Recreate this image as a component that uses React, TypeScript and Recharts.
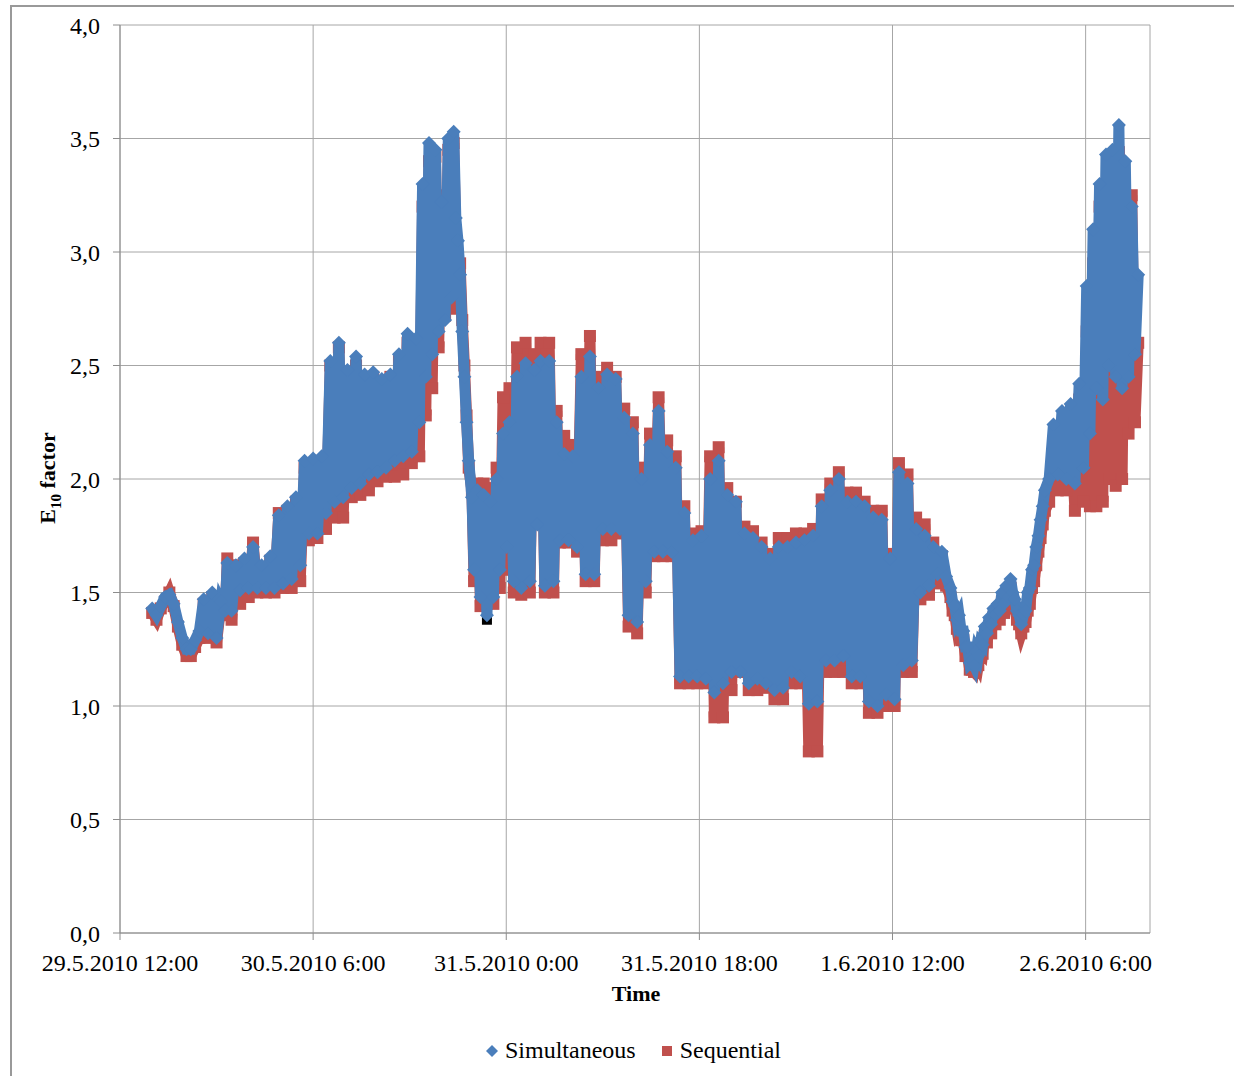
import React from 'react';
import { ScatterChart, Scatter, XAxis, YAxis, CartesianGrid } from 'recharts';

// hours since 29.5.2010 12:00, E10 factor
const simultaneous: [number, number][] = [
  [3.0, 1.43], [3.4, 1.40], [3.8, 1.44], [4.2, 1.48], [4.6, 1.49], [5.0, 1.45], [5.4, 1.37], [5.8, 1.30],
  [6.2, 1.25], [6.6, 1.25], [7.0, 1.29], [7.4, 1.33], [7.8, 1.47], [8.2, 1.32], [8.6, 1.50], [9.0, 1.30],
  [9.4, 1.46], [9.8, 1.42], [10.0, 1.63], [10.4, 1.42], [10.8, 1.62], [11.2, 1.51], [11.6, 1.65], [12.0, 1.52],
  [12.4, 1.70], [12.8, 1.52], [13.2, 1.62], [13.6, 1.52], [14.0, 1.66], [14.4, 1.52], [14.8, 1.84], [15.2, 1.54],
  [15.6, 1.88], [16.0, 1.56], [16.4, 1.92], [16.8, 1.62], [17.2, 2.08], [17.6, 1.76], [18.0, 2.09], [18.4, 1.76],
  [18.8, 2.10], [19.2, 1.85], [19.6, 2.52], [20.0, 1.90], [20.4, 2.60], [20.8, 1.92], [21.2, 2.48], [21.6, 1.96],
  [22.0, 2.54], [22.4, 1.98], [22.8, 2.46], [23.2, 2.02], [23.6, 2.47], [24.0, 2.03], [24.4, 2.44], [24.8, 2.05],
  [25.2, 2.46], [25.6, 2.08], [26.0, 2.55], [26.4, 2.10], [26.8, 2.64], [27.2, 2.12], [27.6, 2.62], [27.9, 2.25],
  [28.2, 3.30], [28.5, 2.45], [28.8, 3.48], [29.1, 2.55], [29.4, 3.45], [29.7, 2.65], [30.0, 3.22], [30.3, 2.70],
  [30.6, 3.50], [30.9, 2.80], [31.1, 3.53], [31.3, 3.15], [31.5, 3.05], [31.7, 2.90], [31.9, 2.65], [32.1, 2.45],
  [32.3, 2.25], [32.5, 2.08], [32.8, 1.92], [33.0, 1.60], [33.3, 1.95], [33.6, 1.48], [33.9, 1.93], [34.2, 1.40],
  [34.5, 1.90], [34.8, 1.48], [35.1, 2.00], [35.4, 1.60], [35.7, 2.20], [36.0, 1.70], [36.3, 2.25], [36.7, 1.55],
  [37.0, 2.45], [37.4, 1.52], [37.8, 2.51], [38.2, 1.55], [38.6, 2.48], [38.9, 1.80], [39.2, 2.52], [39.6, 1.53],
  [40.0, 2.52], [40.4, 1.55], [40.7, 2.25], [41.0, 1.73], [41.4, 2.11], [41.8, 1.73], [42.2, 2.10], [42.6, 1.70],
  [43.0, 2.45], [43.4, 1.58], [43.8, 2.54], [44.2, 1.58], [44.6, 2.40], [45.0, 1.78], [45.4, 2.46], [45.8, 1.78],
  [46.2, 2.44], [46.6, 1.78], [47.0, 2.27], [47.4, 1.40], [47.8, 2.20], [48.2, 1.37], [48.6, 2.00], [49.0, 1.55],
  [49.4, 2.15], [49.8, 1.68], [50.2, 2.30], [50.6, 1.68], [51.0, 2.12], [51.4, 1.68], [51.8, 2.05], [52.2, 1.13],
  [52.6, 1.85], [53.0, 1.13], [53.4, 1.73], [53.8, 1.13], [54.2, 1.75], [54.6, 1.12], [55.0, 2.00], [55.4, 1.06],
  [55.8, 2.08], [56.2, 1.10], [56.6, 1.93], [57.0, 1.15], [57.4, 1.90], [57.8, 1.15], [58.2, 1.76], [58.6, 1.10],
  [59.0, 1.74], [59.4, 1.12], [59.8, 1.70], [60.2, 1.10], [60.6, 1.65], [61.0, 1.07], [61.4, 1.70], [61.8, 1.08],
  [62.2, 1.70], [62.6, 1.15], [63.0, 1.72], [63.4, 1.13], [63.8, 1.73], [64.2, 1.01], [64.6, 1.75], [65.0, 1.02],
  [65.4, 1.88], [65.8, 1.20], [66.2, 1.95], [66.6, 1.20], [67.0, 2.00], [67.4, 1.22], [67.8, 1.90], [68.2, 1.13],
  [68.6, 1.90], [69.0, 1.13], [69.4, 1.88], [69.8, 1.02], [70.2, 1.83], [70.6, 1.00], [71.0, 1.82], [71.4, 1.05],
  [71.8, 1.65], [72.2, 1.03], [72.6, 2.03], [73.0, 1.18], [73.4, 1.98], [73.8, 1.20], [74.2, 1.78], [74.6, 1.50],
  [75.0, 1.75], [75.4, 1.53], [75.8, 1.70], [76.2, 1.58], [76.6, 1.68], [77.0, 1.57], [77.4, 1.52], [77.6, 1.46],
  [77.8, 1.44], [78.0, 1.38], [78.2, 1.40], [78.4, 1.33], [78.6, 1.33], [78.8, 1.26], [79.0, 1.26], [79.2, 1.19],
  [79.4, 1.20], [79.6, 1.18], [79.8, 1.24], [80.0, 1.22], [80.2, 1.28], [80.4, 1.27], [80.6, 1.35], [80.8, 1.32],
  [81.0, 1.39], [81.2, 1.36], [81.4, 1.43], [81.6, 1.40], [81.8, 1.45], [82.0, 1.42], [82.2, 1.50], [82.4, 1.45],
  [82.6, 1.53], [82.8, 1.48], [83.0, 1.56], [83.2, 1.50], [83.4, 1.47], [83.6, 1.42], [83.8, 1.40], [84.0, 1.36],
  [84.2, 1.40], [84.4, 1.42], [84.6, 1.50], [84.8, 1.52], [85.0, 1.60], [85.2, 1.62], [85.4, 1.70], [85.6, 1.75],
  [85.8, 1.82], [86.0, 1.88], [86.2, 1.95], [86.6, 2.00], [87.0, 2.24], [87.4, 2.02],
  [87.8, 2.30], [88.2, 2.00], [88.6, 2.33], [89.0, 1.98], [89.4, 2.42], [89.8, 2.05], [90.1, 2.85], [90.4, 2.20],
  [90.7, 3.10], [91.0, 2.40], [91.3, 3.30], [91.6, 2.35], [91.9, 3.43], [92.2, 2.50], [92.5, 3.45], [92.8, 2.45],
  [93.1, 3.56], [93.4, 2.40], [93.7, 3.40], [94.0, 2.45], [94.3, 3.20], [94.6, 2.55], [94.9, 2.90],
];

const sequential: [number, number][] = [
  [3.0, 1.41], [3.4, 1.38], [3.8, 1.43], [4.2, 1.46], [4.6, 1.50], [5.0, 1.44], [5.4, 1.35], [5.8, 1.27],
  [6.2, 1.22], [6.6, 1.22], [7.0, 1.26], [7.4, 1.30], [7.8, 1.45], [8.2, 1.30], [8.6, 1.48], [9.0, 1.28],
  [9.4, 1.44], [9.8, 1.40], [10.0, 1.65], [10.4, 1.38], [10.8, 1.62], [11.2, 1.45], [11.6, 1.63], [12.0, 1.48],
  [12.4, 1.72], [12.8, 1.50], [13.2, 1.60], [13.6, 1.50], [14.0, 1.64], [14.4, 1.50], [14.8, 1.85], [15.2, 1.52],
  [15.6, 1.86], [16.0, 1.52], [16.4, 1.90], [16.8, 1.55], [17.2, 2.05], [17.6, 1.73], [18.0, 2.06], [18.4, 1.74],
  [18.8, 2.08], [19.2, 1.78], [19.6, 2.50], [20.0, 1.83], [20.4, 2.58], [20.8, 1.83], [21.2, 2.45], [21.6, 1.92],
  [22.0, 2.50], [22.4, 1.93], [22.8, 2.45], [23.2, 1.95], [23.6, 2.45], [24.0, 1.99], [24.4, 2.42], [24.8, 2.01],
  [25.2, 2.45], [25.6, 2.01], [26.0, 2.52], [26.4, 2.02], [26.8, 2.60], [27.2, 2.07], [27.6, 2.60], [27.9, 2.10],
  [28.2, 3.20], [28.5, 2.28], [28.8, 3.40], [29.1, 2.40], [29.4, 3.42], [29.7, 2.58], [30.0, 3.25], [30.3, 2.72],
  [30.6, 3.45], [30.9, 2.75], [31.1, 3.48], [31.3, 3.07], [31.5, 2.93], [31.7, 2.95], [31.9, 2.70], [32.1, 2.50],
  [32.3, 2.28], [32.5, 2.05], [32.8, 1.95], [33.0, 1.55], [33.3, 1.98], [33.6, 1.44], [33.9, 1.98], [34.2, 1.45],
  [34.5, 1.96], [34.8, 1.45], [35.1, 2.05], [35.4, 1.52], [35.7, 2.36], [36.0, 1.60], [36.3, 2.40], [36.7, 1.50],
  [37.0, 2.58], [37.4, 1.49], [37.8, 2.60], [38.2, 1.50], [38.6, 2.55], [38.9, 1.90], [39.2, 2.60], [39.6, 1.50],
  [40.0, 2.60], [40.4, 1.50], [40.7, 2.30], [41.0, 1.72], [41.4, 2.19], [41.8, 1.72], [42.2, 2.15], [42.6, 1.68],
  [43.0, 2.55], [43.4, 1.55], [43.8, 2.63], [44.2, 1.55], [44.6, 2.45], [45.0, 1.73], [45.4, 2.49], [45.8, 1.73],
  [46.2, 2.45], [46.6, 1.76], [47.0, 2.31], [47.4, 1.35], [47.8, 2.25], [48.2, 1.32], [48.6, 2.05], [49.0, 1.50],
  [49.4, 2.20], [49.8, 1.66], [50.2, 2.36], [50.6, 1.66], [51.0, 2.17], [51.4, 1.66], [51.8, 2.10], [52.2, 1.10],
  [52.6, 1.88], [53.0, 1.10], [53.4, 1.76], [53.8, 1.10], [54.2, 1.77], [54.6, 1.10], [55.0, 2.10], [55.4, 0.95],
  [55.8, 2.14], [56.2, 0.95], [56.6, 1.96], [57.0, 1.07], [57.4, 1.90], [57.8, 1.15], [58.2, 1.79], [58.6, 1.07],
  [59.0, 1.77], [59.4, 1.07], [59.8, 1.72], [60.2, 1.08], [60.6, 1.67], [61.0, 1.03], [61.4, 1.74], [61.8, 1.03],
  [62.2, 1.74], [62.6, 1.10], [63.0, 1.76], [63.4, 1.10], [63.8, 1.76], [64.2, 0.80], [64.6, 1.78], [65.0, 0.80],
  [65.4, 1.91], [65.8, 1.15], [66.2, 1.98], [66.6, 1.15], [67.0, 2.03], [67.4, 1.15], [67.8, 1.94], [68.2, 1.10],
  [68.6, 1.94], [69.0, 1.10], [69.4, 1.90], [69.8, 0.97], [70.2, 1.86], [70.6, 0.97], [71.0, 1.86], [71.4, 1.00],
  [71.8, 1.67], [72.2, 1.00], [72.6, 2.07], [73.0, 1.15], [73.4, 2.02], [73.8, 1.15], [74.2, 1.83], [74.6, 1.47],
  [75.0, 1.80], [75.4, 1.49], [75.8, 1.72], [76.2, 1.54], [76.6, 1.66], [77.0, 1.53], [77.4, 1.48], [77.6, 1.42],
  [77.8, 1.40], [78.0, 1.34], [78.2, 1.36], [78.4, 1.29], [78.6, 1.29], [78.8, 1.22], [79.0, 1.22], [79.2, 1.16],
  [79.4, 1.16], [79.6, 1.15], [79.8, 1.20], [80.0, 1.18], [80.2, 1.24], [80.4, 1.23], [80.6, 1.31], [80.8, 1.28],
  [81.0, 1.35], [81.2, 1.32], [81.4, 1.39], [81.6, 1.36], [81.8, 1.41], [82.0, 1.38], [82.2, 1.46], [82.4, 1.41],
  [82.6, 1.49], [82.8, 1.44], [83.0, 1.52], [83.2, 1.46], [83.4, 1.43], [83.6, 1.38], [83.8, 1.36], [84.0, 1.32],
  [84.2, 1.35], [84.4, 1.37], [84.6, 1.42], [84.8, 1.45], [85.0, 1.52], [85.2, 1.55], [85.4, 1.62], [85.6, 1.68],
  [85.8, 1.74], [86.0, 1.80], [86.2, 1.86], [86.6, 1.90], [87.0, 2.15], [87.4, 1.95],
  [87.8, 2.20], [88.2, 1.95], [88.6, 2.25], [89.0, 1.86], [89.4, 2.35], [89.8, 1.90], [90.1, 2.65], [90.4, 1.88],
  [90.7, 2.95], [91.0, 1.88], [91.3, 3.20], [91.6, 1.90], [91.9, 3.30], [92.2, 2.00], [92.5, 3.40], [92.8, 1.97],
  [93.1, 3.44], [93.4, 2.00], [93.7, 3.25], [94.0, 2.20], [94.3, 3.25], [94.6, 2.25], [94.9, 2.60],
];

// single black marker under the blue band
const marked: [number, number][] = [[34.2, 1.38]];

const timeTicks = [0, 18, 36, 54, 72, 90];
const timeLabels = ['29.5.2010 12:00', '30.5.2010 6:00', '31.5.2010 0:00', '31.5.2010 18:00', '1.6.2010 12:00', '2.6.2010 6:00'];
const valueTicks = [0, 0.5, 1, 1.5, 2, 2.5, 3, 3.5, 4];

const BLUE = '#4a7ebb';
const RED = '#c0504d';
const FONT = '"Liberation Serif", "Times New Roman", serif';

const toPoints = (arr: [number, number][]) => arr.map(([h, v]) => ({ h, v }));

const Diamond = (props: any) => {
  const { cx, cy } = props;
  const r = 7;
  return <polygon points={`${cx},${cy - r} ${cx + r},${cy} ${cx},${cy + r} ${cx - r},${cy}`} fill={BLUE} />;
};

const Square = (props: any) => {
  const { cx, cy } = props;
  return <rect x={cx - 6} y={cy - 6} width={12} height={12} fill={RED} />;
};

const BlackSquare = (props: any) => {
  const { cx, cy } = props;
  return <rect x={cx - 5} y={cy - 5} width={10} height={10} fill="#000" />;
};

export default function App() {
  return (
    <div style={{ position: 'absolute', left: 0, top: 0, width: 1234, height: 1076, background: '#fff', fontFamily: FONT, overflow: 'hidden' }}>
      <div style={{ position: 'absolute', left: 10, top: 5, width: 1230, height: 1080, borderLeft: '2px solid #999', borderTop: '2px solid #999' }} />
      <ScatterChart width={1234} height={1076} margin={{ top: 25, right: 84, bottom: 103, left: 0 }}>
        <CartesianGrid stroke="#a6a6a6" strokeWidth={1} />
        <XAxis
          type="number"
          dataKey="h"
          domain={[0, 96]}
          ticks={timeTicks}
          tickFormatter={(t: number) => timeLabels[timeTicks.indexOf(t)]}
          height={40}
          tickSize={7}
          tickMargin={14}
          stroke="#8c8c8c"
          tick={{ fill: '#000', fontSize: 24, fontFamily: FONT }}
          allowDataOverflow
        />
        <YAxis
          type="number"
          dataKey="v"
          domain={[0, 4]}
          ticks={valueTicks}
          tickFormatter={(v: number) => v.toFixed(1).replace('.', ',')}
          width={120}
          tickSize={7}
          tickMargin={13}
          stroke="#8c8c8c"
          tick={{ fill: '#000', fontSize: 24, fontFamily: FONT }}
        />
        <Scatter
          name="Sequential"
          data={toPoints(sequential)}
          fill={RED}
          line={{ stroke: RED, strokeWidth: 11 }}
          shape={Square}
          isAnimationActive={false}
        />
        <Scatter name="marked" data={toPoints(marked)} fill="#000" shape={BlackSquare} isAnimationActive={false} />
        <Scatter
          name="Simultaneous"
          data={toPoints(simultaneous)}
          fill={BLUE}
          line={{ stroke: BLUE, strokeWidth: 11 }}
          shape={Diamond}
          isAnimationActive={false}
        />
      </ScatterChart>

      <div style={{ position: 'absolute', left: 0, width: 1272, top: 981, textAlign: 'center', fontWeight: 'bold', fontSize: 22, fontFamily: FONT }}>Time</div>
      <div
        style={{
          position: 'absolute', left: 50, top: 478, transform: 'translate(-50%, -50%) rotate(-90deg)',
          whiteSpace: 'nowrap', fontWeight: 'bold', fontSize: 22, fontFamily: FONT,
        }}
      >
        E<sub style={{ fontSize: 15 }}>10</sub> factor
      </div>

      <div style={{ position: 'absolute', left: 0, width: 1266, top: 1037, display: 'flex', justifyContent: 'center', alignItems: 'center', fontSize: 24, fontFamily: FONT }}>
        <svg width={14} height={14} style={{ marginRight: 6 }}>
          <polygon points="7,1 13,7 7,13 1,7" fill={BLUE} />
        </svg>
        <span style={{ fontFamily: FONT }}>Simultaneous</span>
        <svg width={14} height={14} style={{ marginLeft: 24, marginRight: 6 }}>
          <rect x={2} y={2} width={10} height={10} fill={RED} />
        </svg>
        <span style={{ fontFamily: FONT }}>Sequential</span>
      </div>
    </div>
  );
}
